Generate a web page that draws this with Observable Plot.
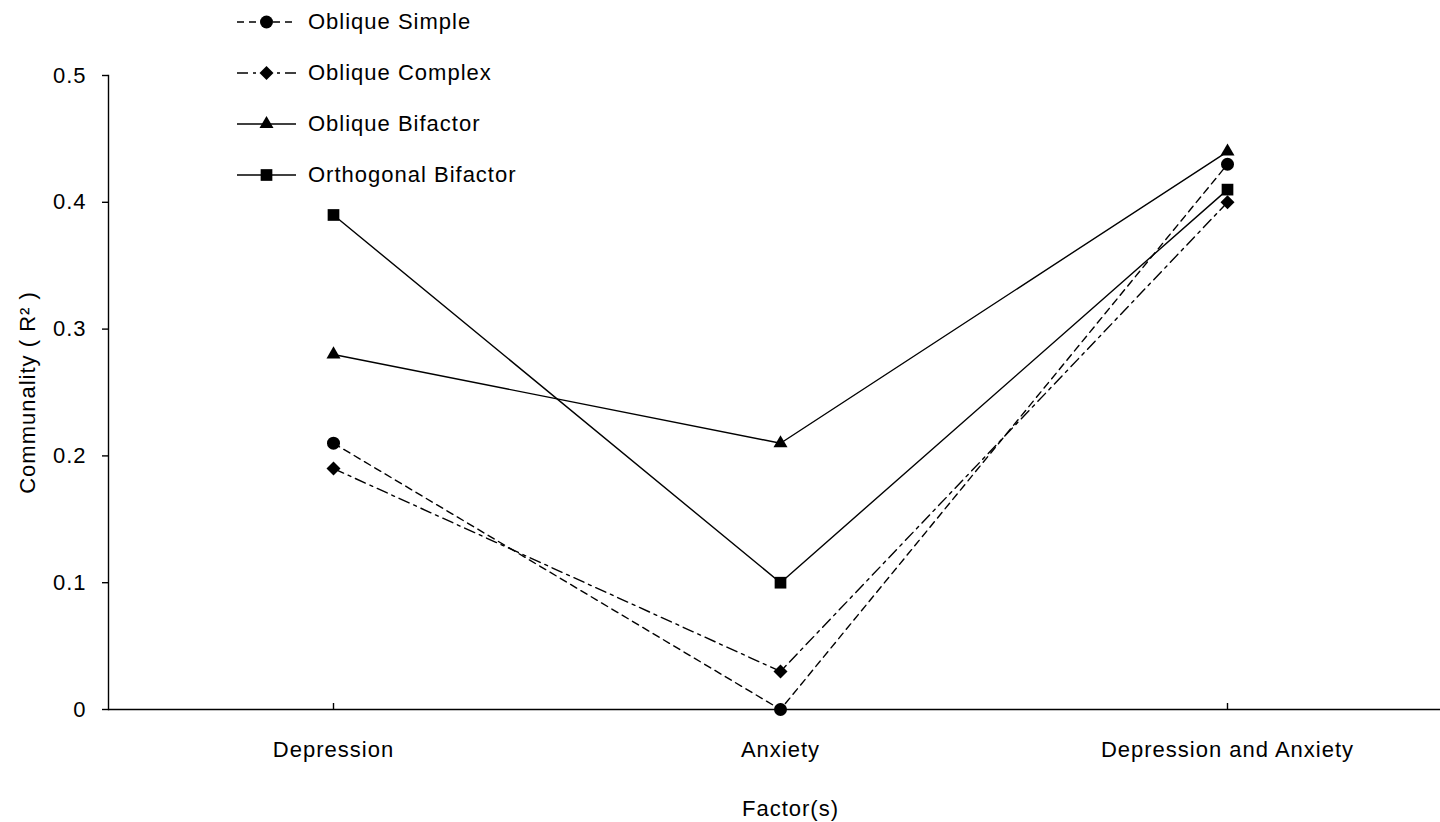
<!DOCTYPE html>
<html><head><meta charset="utf-8">
<script src="https://cdn.jsdelivr.net/npm/d3@7"></script>
<script src="https://cdn.jsdelivr.net/npm/@observablehq/plot@0.6"></script>
<style>
html,body{margin:0;padding:0;background:#fff;}
#wrap{position:relative;width:1440px;height:822px;overflow:hidden;font-family:"Liberation Sans",Arial,sans-serif;}
#legend{position:absolute;left:237px;top:0;}
.row{position:absolute;left:0;height:30px;display:flex;align-items:center;white-space:nowrap;font-size:22px;letter-spacing:1px;color:#000;}
.row svg{display:block;margin-right:12px;}
</style></head><body><div id="wrap"><div id="chart"></div><div id="legend"></div></div>
<script>
const categories = ["Depression", "Anxiety", "Depression and Anxiety"];
const seriesNames = ["Oblique Simple", "Oblique Complex", "Oblique Bifactor", "Orthogonal Bifactor"];
const obliqueSimple = [0.21, 0.00, 0.43];
const obliqueComplex = [0.19, 0.03, 0.40];
const obliqueBifactor = [0.28, 0.21, 0.44];
const orthogonalBifactor = [0.39, 0.10, 0.41];
const yTicks = [0, 0.1, 0.2, 0.3, 0.4, 0.5];
const xLabel = "Factor(s)";
const yLabel = "Communality ( R\u00B2 )";

const seriesValues = [obliqueSimple, obliqueComplex, obliqueBifactor, orthogonalBifactor];

const symbolDiamondSq = {draw(ctx, size) { const s = Math.sqrt(size / 2); ctx.moveTo(0, -s); ctx.lineTo(s, 0); ctx.lineTo(0, s); ctx.lineTo(-s, 0); ctx.closePath(); }};
const styles = [
  {dash: "7,5", symbol: d3.symbolCircle, r: 6.5},
  {dash: "11,5,3,5", symbol: symbolDiamondSq, r: 5.6},
  {dash: null, symbol: d3.symbolTriangle, r: 5.2},
  {dash: null, symbol: d3.symbolSquare, r: 6.6}
];

const data = categories.flatMap((c, i) => seriesNames.map((s, j) => ({category: c, series: s, value: seriesValues[j][i]})));

const lineMarks = seriesNames.map((s, j) => Plot.line(data, {
  filter: d => d.series === s, x: "category", y: "value",
  stroke: "black", strokeWidth: 1.4, strokeDasharray: styles[j].dash
}));
const dotMarks = seriesNames.map((s, j) => Plot.dot(data, {
  filter: d => d.series === s, x: "category", y: "value",
  symbol: styles[j].symbol, r: styles[j].r, fill: "black", stroke: "none"
}));

const chart = Plot.plot({
  width: 1440, height: 822,
  marginTop: 75, marginBottom: 113, marginLeft: 108, marginRight: 0,
  style: {fontFamily: "'Liberation Sans', Arial, sans-serif", fontSize: "22px", letterSpacing: "1px", color: "#000", background: "#fff"},
  x: {type: "point", domain: categories, range: [108, 1451], padding: 0.5},
  y: {domain: [0, 0.5]},
  marks: [
    Plot.ruleY([0], {stroke: "black", strokeWidth: 1.4}),
    Plot.frame({anchor: "left", stroke: "black", strokeWidth: 1.4}),
    Plot.axisY({ticks: yTicks, tickFormat: d => String(d), tickSize: 6, tickPadding: 16, label: null, strokeWidth: 1.4}),
    Plot.axisX({tickSize: -6, tickPadding: 38, label: null, strokeWidth: 1.4}),
    ...lineMarks,
    ...dotMarks,
    Plot.text([xLabel], {frameAnchor: "bottom", textAnchor: "middle", dx: 16, dy: 99, lineAnchor: "middle", fontSize: 22}),
    Plot.text([yLabel], {frameAnchor: "left", textAnchor: "middle", dx: -81, rotate: -90, lineAnchor: "middle", fontSize: 22})
  ]
});
document.getElementById("chart").appendChild(chart);

// legend
const legend = d3.select("#legend");
seriesNames.forEach((s, j) => {
  const row = legend.append("div").attr("class", "row").style("top", (22 + j * 51 - 15) + "px");
  const svg = row.append("svg").attr("width", 59).attr("height", 30);
  svg.append("line").attr("x1", 0).attr("x2", 59).attr("y1", 15).attr("y2", 15)
    .attr("stroke", "black").attr("stroke-width", 1.4).attr("stroke-dasharray", styles[j].dash);
  svg.append("path").attr("transform", "translate(29.5,15)")
    .attr("d", d3.symbol().type(styles[j].symbol).size(Math.PI * styles[j].r * styles[j].r)()).attr("fill", "black");
  row.append("span").text(s);
});
</script>
</body></html>
